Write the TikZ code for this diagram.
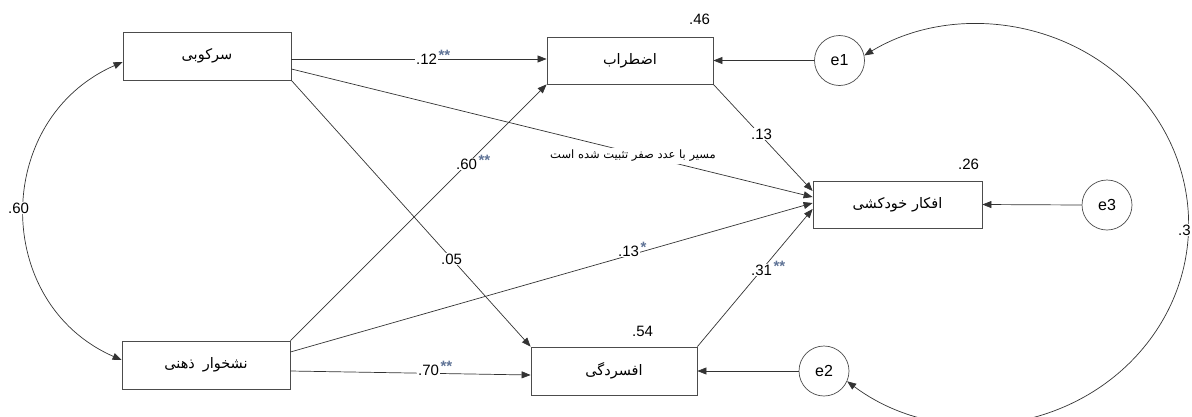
\documentclass[tikz,border=0pt]{standalone}
\usepackage{fontspec}
\setmainfont{Liberation Sans}
\newfontfamily\fafont[Script=Arabic]{DejaVu Sans}
\TeXXeTstate=1
\usetikzlibrary{arrows.meta,calc}
\definecolor{astc}{RGB}{95,115,150}
\newcommand{\fa}[1]{{\fafont\beginR #1\endR}}
\newcommand{\sig}[1]{\smash{\rlap{\hspace{1.5pt}\raisebox{4pt}{\fontsize{15}{15}\selectfont\bfseries\color{astc}#1}}}}
\begin{document}
\begin{tikzpicture}[x=1pt,y=-1pt,
  every node/.style={font=\fontsize{15}{18}\selectfont},
  box/.style={draw=black!70, line width=0.8pt, minimum width=168pt, minimum height=48pt, inner sep=0pt, font=\fafont\fontsize{14.5}{17}\selectfont},
  errc/.style={draw=black!70, line width=0.7pt, circle, minimum size=50pt, inner sep=0pt, font=\fontsize{16}{18}\selectfont},
  conn/.style={draw=black!80, line width=0.7pt, -{Triangle[length=9pt,width=7pt]}},
  cov/.style={draw=black!80, line width=0.7pt, {Triangle[length=9pt,width=7pt]}-{Triangle[length=9pt,width=7pt]}},
  lab/.style={fill=white, inner sep=1pt, anchor=base west},
  note/.style={fill=white, inner sep=2pt, font=\fafont\fontsize{11.5}{13}\selectfont}
]
\useasboundingbox (0,0) rectangle (1192,416);
\clip (0,0) rectangle (1192,416);

% observed variables
\node[box] (s) at (207,56) {\fa{سرکوبی}};
\node[box] (n) at (206,365) {\fa{نشخوار\hspace{8pt}ذهنی}};
\node[box, minimum width=166pt, minimum height=47pt] (a) at (630,60.5) {\fa{اضطراب}};
\node[box, minimum width=166pt] (d) at (614,371) {\fa{افسردگی}};
\node[box, minimum width=169pt, minimum height=47pt] (k) at (897.5,204.5) {\fa{افکار خودکشی}};

% error terms
\node[errc] (e1) at (839.5,60.5) {e1};
\node[errc] (e2) at (824,371) {e2};
\node[errc] (e3) at (1107,205) {e3};

% paths
\draw[conn] ($(s.east)+(0,3)$) -- ($(a.west)+(0,-1.5)$);
\draw[conn] ($(s.east)+(0,13)$) -- ($(k.west)+(0,-7.5)$);
\draw[conn] (s.south east) -- (d.north west);
\draw[conn] (n.north east) -- (a.south west);
\draw[conn] ($(n.east)+(0,-13)$) -- ($(k.west)+(0,-1.5)$);
\draw[conn] ($(n.east)+(0,6)$) -- ($(d.west)+(0,4)$);
\draw[conn] (a.south east) -- ($(k.west)+(0,-13.5)$);
\draw[conn] (d.north east) -- ($(k.west)+(0,4.5)$);
\draw[conn] (e1.west) -- (a.east);
\draw[conn] (e2.west) -- (d.east);
\draw[conn] (e3.west) -- (k.east);

% covariances
\draw[cov] ($(s.west)+(0,6)$) .. controls +(-130,57) and +(-130,-57) .. ($(n.west)+(0,-5)$);
\draw[cov] (e2.-24) arc[start angle=128.2, end angle=-122.5, x radius=211, y radius=200];

% coefficient labels
\node[lab] (l1) at (415,64) {.12\sig{**}};
\node[lab] (l2) at (455,169) {.60\sig{**}};
\node[lab] (l3) at (440,264) {.05};
\node[lab] (l4) at (617,256) {.13\sig{*}};
\node[lab] (l5) at (750,275) {.31\sig{**}};
\node[lab] (l6) at (417,375) {.70\sig{**}};
\node[lab] (l7) at (750,139) {.13};
\node[lab] (l8) at (7,213) {.60};
\node[lab] (l9) at (1177,235) {.3};

% squared multiple correlations
\node[anchor=base west, inner sep=1pt] (r1) at (688,24) {.46};
\node[anchor=base west, inner sep=1pt] (r2) at (631,336) {.54};
\node[anchor=base west, inner sep=1pt] (r3) at (957,169) {.26};

% note
\node[note] (nt) at (633,156) {\fa{مسیر با عدد صفر تثبیت شده است}};
\end{tikzpicture}
\end{document}
